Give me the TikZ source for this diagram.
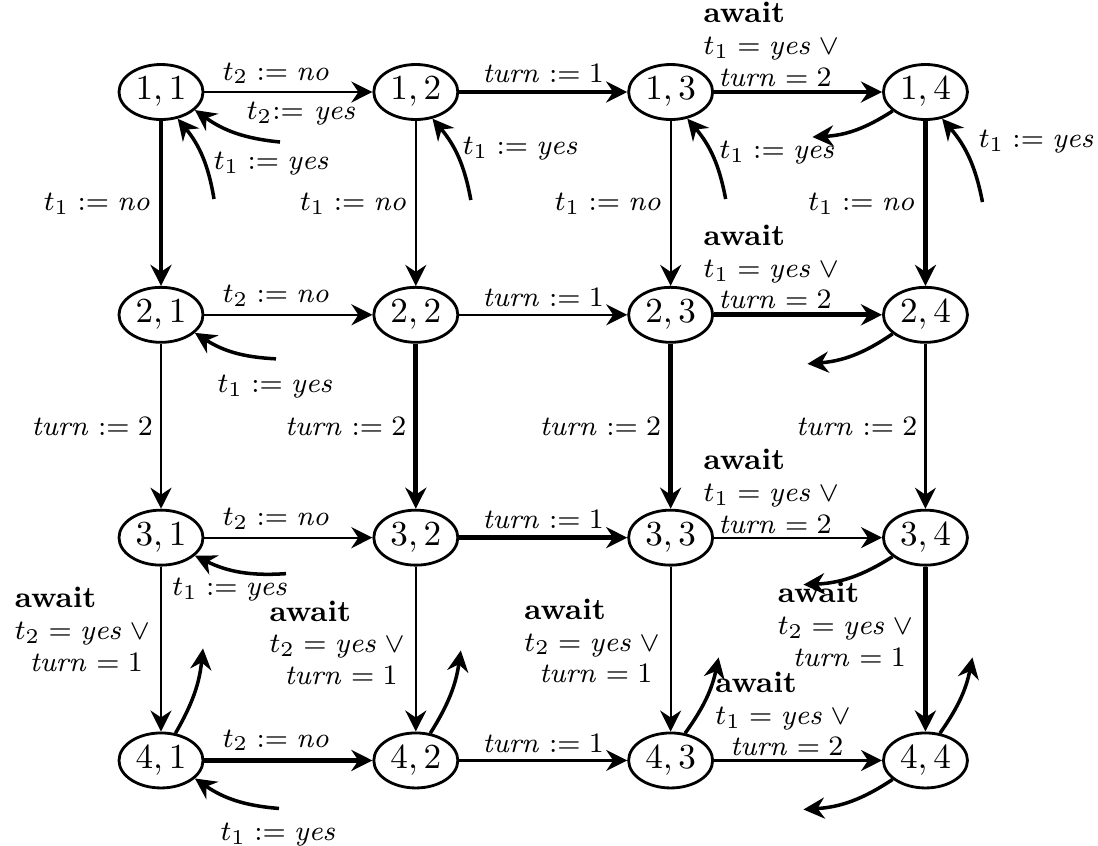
\documentclass[tikz,border=0pt]{standalone}
\usepackage{amsmath}
\usepackage{amssymb}
\usepackage{tikz}
\usetikzlibrary{shapes.geometric, arrows.meta, positioning, calc}
\tikzset{
  state/.style={ellipse, draw=black, line width=0.8pt, minimum width=0.84cm,
    minimum height=0.55cm, inner sep=1pt, font=\normalsize},
  arrow/.style={-{Stealth[length=6pt,width=6pt,inset=2pt]}, line width=0.6pt},
  heavy/.style={arrow, line width=1.4pt},
  loose/.style={arrow, line width=1pt},
  lbl/.style={font=\fontsize{8.5}{9}\selectfont, inner sep=2pt},
  waitlbl/.style={lbl, align=left, inner sep=1pt}
}

\begin{document}
\begin{tikzpicture}[node distance=1.65cm and 1.68cm]
\useasboundingbox (0,0) rectangle (10.98,-8.45);

% states (i,j)
\node (n11) [state] at (1.61,-0.92) {$1,1$};
\node (n12) [state, right=of n11] {$1,2$};
\node (n13) [state, right=of n12] {$1,3$};
\node (n14) [state, right=of n13] {$1,4$};
\node (n21) [state, below=of n11] {$2,1$};
\node (n22) [state, right=of n21] {$2,2$};
\node (n23) [state, right=of n22] {$2,3$};
\node (n24) [state, right=of n23] {$2,4$};
\node (n31) [state, below=of n21] {$3,1$};
\node (n32) [state, right=of n31] {$3,2$};
\node (n33) [state, right=of n32] {$3,3$};
\node (n34) [state, right=of n33] {$3,4$};
\node (n41) [state, below=of n31] {$4,1$};
\node (n42) [state, right=of n41] {$4,2$};
\node (n43) [state, right=of n42] {$4,3$};
\node (n44) [state, right=of n43] {$4,4$};

% rows
\draw [arrow] (n11) -- node[lbl,above,pos=0.43]{$t_2 := \mathit{no}$} (n12);
\draw [heavy] (n12) -- node[lbl,above]{$\mathit{turn} := 1$} (n13);
\draw [heavy] (n13) -- node[waitlbl,above,pos=0.36]{\textbf{await}\\ $t_1 = \mathit{yes} \vee{}$\\ \enspace$\mathit{turn} = 2$} (n14);
\draw [arrow] (n21) -- node[lbl,above,pos=0.43]{$t_2 := \mathit{no}$} (n22);
\draw [arrow] (n22) -- node[lbl,above]{$\mathit{turn} := 1$} (n23);
\draw [heavy] (n23) -- node[waitlbl,above,pos=0.36]{\textbf{await}\\ $t_1 = \mathit{yes} \vee{}$\\ \enspace$\mathit{turn} = 2$} (n24);
\draw [arrow] (n31) -- node[lbl,above,pos=0.43]{$t_2 := \mathit{no}$} (n32);
\draw [heavy] (n32) -- node[lbl,above]{$\mathit{turn} := 1$} (n33);
\draw [arrow] (n33) -- node[waitlbl,above,pos=0.36]{\textbf{await}\\ $t_1 = \mathit{yes} \vee{}$\\ \enspace$\mathit{turn} = 2$} (n34);
\draw [heavy] (n41) -- node[lbl,above,pos=0.43]{$t_2 := \mathit{no}$} (n42);
\draw [arrow] (n42) -- node[lbl,above]{$\mathit{turn} := 1$} (n43);
\draw [arrow] (n43) -- node[waitlbl,above,pos=0.43]{\textbf{await}\\ $t_1 = \mathit{yes} \vee{}$\\ \enspace$\mathit{turn} = 2$} (n44);

% columns
\draw [heavy] (n11) -- node[lbl,left]{$t_1 := \mathit{no}$} (n21);
\draw [arrow] (n21) -- node[lbl,left]{$\mathit{turn} := 2$} (n31);
\draw [arrow] (n31) -- node[waitlbl,left,pos=0.38]{\textbf{await}\\ $t_2 = \mathit{yes} \vee{}$\\ \enspace$\mathit{turn} = 1$} (n41);
\draw [arrow] (n12) -- node[lbl,left]{$t_1 := \mathit{no}$} (n22);
\draw [heavy] (n22) -- node[lbl,left]{$\mathit{turn} := 2$} (n32);
\draw [arrow] (n32) -- node[waitlbl,left,pos=0.46]{\textbf{await}\\ $t_2 = \mathit{yes} \vee{}$\\ \enspace$\mathit{turn} = 1$} (n42);
\draw [arrow] (n13) -- node[lbl,left]{$t_1 := \mathit{no}$} (n23);
\draw [heavy] (n23) -- node[lbl,left]{$\mathit{turn} := 2$} (n33);
\draw [arrow] (n33) -- node[waitlbl,left,pos=0.45]{\textbf{await}\\ $t_2 = \mathit{yes} \vee{}$\\ \enspace$\mathit{turn} = 1$} (n43);
\draw [heavy] (n14) -- node[lbl,left]{$t_1 := \mathit{no}$} (n24);
\draw [arrow] (n24) -- node[lbl,left]{$\mathit{turn} := 2$} (n34);
\draw [heavy] (n34) -- node[waitlbl,left,pos=0.35]{\textbf{await}\\ $t_2 = \mathit{yes} \vee{}$\\ \enspace$\mathit{turn} = 1$} (n44);

% wrap-around ends
\coordinate (up11) at ($(n11)+(0.53,-1.07)$);
\coordinate (up12) at ($(n12)+(0.55,-1.08)$);
\coordinate (up13) at ($(n13)+(0.55,-1.07)$);
\coordinate (up14) at ($(n14)+(0.57,-1.10)$);
\coordinate (in11) at ($(n11)+(1.19,-0.50)$);
\coordinate (in21) at ($(n21)+(1.15,-0.44)$);
\coordinate (in31) at ($(n31)+(1.25,-0.36)$);
\coordinate (in41) at ($(n41)+(1.18,-0.48)$);
\coordinate (top41) at ($(n41)+(0.42,1.12)$);
\coordinate (top42) at ($(n42)+(0.45,1.10)$);
\coordinate (top43) at ($(n43)+(0.48,1.03)$);
\coordinate (top44) at ($(n44)+(0.47,1.03)$);
\coordinate (out14) at ($(n14)+(-1.13,-0.45)$);
\coordinate (out24) at ($(n24)+(-1.18,-0.49)$);
\coordinate (out34) at ($(n34)+(-1.22,-0.47)$);
\coordinate (out44) at ($(n44)+(-1.22,-0.49)$);

\draw [loose] (up11) to[bend right=15] node[lbl,right,pos=0.4]{$t_1 := \mathit{yes}$} (n11.-58);
\draw [loose] (up12) to[bend right=15] node[lbl,right,pos=0.6]{$t_1 := \mathit{yes}$} (n12.-58);
\draw [loose] (up13) to[bend right=15] node[lbl,right,pos=0.55]{$t_1 := \mathit{yes}$} (n13.-58);
\draw [loose] (up14) to[bend right=15] node[lbl,right,pos=0.7,xshift=0.1cm]{$t_1 := \mathit{yes}$} (n14.-58);

\draw [loose] (in11) to[bend left=15] node[lbl,above,pos=0,xshift=0.22cm,yshift=0.08cm]{$t_2{:=}\ \mathit{yes}$} (n11.-28);
\draw [loose] (in21) to[bend left=15] node[lbl,below,pos=0,yshift=-0.08cm]{$t_1 := \mathit{yes}$} (n21.-28);
\draw [loose] (in31) to[bend left=15] node[lbl,below,pos=0.6]{$t_1 := \mathit{yes}$} (n31.-28);
\draw [loose] (in41) to[bend left=15] node[lbl,below,pos=0,yshift=-0.06cm]{$t_1 := \mathit{yes}$} (n41.-28);

\draw [loose] (n41.62) to[bend right=12] (top41);
\draw [loose] (n42.62) to[bend right=12] (top42);
\draw [loose] (n43.62) to[bend right=12] (top43);
\draw [loose] (n44.62) to[bend right=12] (top44);

\draw [loose] (n14.-150) to[bend left=15] (out14);
\draw [loose] (n24.-150) to[bend left=15] (out24);
\draw [loose] (n34.-150) to[bend left=15] (out34);
\draw [loose] (n44.-150) to[bend left=15] (out44);
\end{tikzpicture}
\end{document}
